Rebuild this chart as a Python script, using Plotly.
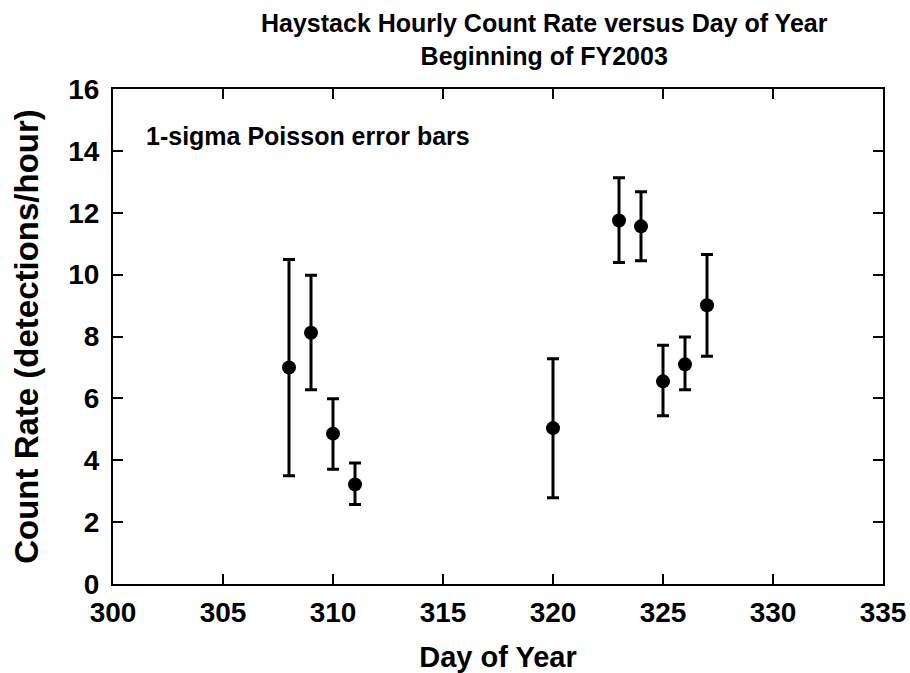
import plotly.graph_objects as go

days = [308, 309, 310, 311, 320, 323, 324, 325, 326, 327]
rate = [7.0, 8.12, 4.86, 3.22, 5.04, 11.75, 11.56, 6.55, 7.10, 9.01]
err_hi = [10.49, 9.98, 5.99, 3.91, 7.28, 13.13, 12.68, 7.72, 7.98, 10.65]
err_lo = [3.5, 6.28, 3.71, 2.57, 2.79, 10.39, 10.45, 5.44, 6.28, 7.36]

x_ticks = [300, 305, 310, 315, 320, 325, 330, 335]
y_ticks = [0, 2, 4, 6, 8, 10, 12, 14, 16]

plus = [h - r for h, r in zip(err_hi, rate)]
minus = [r - l for r, l in zip(rate, err_lo)]

FONT = "Liberation Sans, Arial, sans-serif"

fig = go.Figure()
fig.add_trace(go.Scatter(
    x=days, y=rate, mode="markers",
    marker=dict(color="black", size=14, symbol="circle"),
    error_y=dict(type="data", symmetric=False, array=plus, arrayminus=minus,
                 color="black", thickness=3, width=6),
    showlegend=False,
))

axis_common = dict(
    showline=True, linecolor="black", linewidth=2, mirror="ticks",
    ticks="inside", ticklen=10, tickwidth=2, tickcolor="black",
    showgrid=False, zeroline=False, automargin=False,
)

fig.update_layout(
    width=910, height=673,
    margin=dict(l=113, r=27, t=89, b=89),
    paper_bgcolor="white", plot_bgcolor="white",
    xaxis=dict(range=[300, 335], tickvals=x_ticks, ticklabelstandoff=2,
               tickfont=dict(family=FONT, size=28, color="black", weight="bold"),
               title=dict(text="Day of Year", standoff=24,
                          font=dict(family=FONT, size=29, color="black", weight="bold")),
               **axis_common),
    yaxis=dict(range=[0, 16], tickvals=y_ticks, ticklabelstandoff=6,
               tickfont=dict(family=FONT, size=28, color="black", weight="bold"),
               title=dict(text="Count Rate (detections/hour)", standoff=20,
                          font=dict(family=FONT, size=33, color="black", weight="bold")),
               **axis_common),
    annotations=[
        dict(text="Haystack Hourly Count Rate versus Day of Year<br>Beginning of FY2003",
             xref="paper", yref="paper", x=0.561, y=1.165, xanchor="center", yanchor="top",
             showarrow=False, align="center",
             font=dict(family=FONT, size=25, color="black", weight="bold")),
        dict(text="1-sigma Poisson error bars", xref="paper", yref="paper",
             x=0.04, y=0.905, xanchor="left", yanchor="middle", showarrow=False,
             font=dict(family=FONT, size=25, color="black", weight="bold")),
    ],
)

fig.write_html(
    "out.html",
    config={"displayModeBar": False},
    post_script="document.body.style.margin='0';document.documentElement.style.overflow='hidden';",
)
